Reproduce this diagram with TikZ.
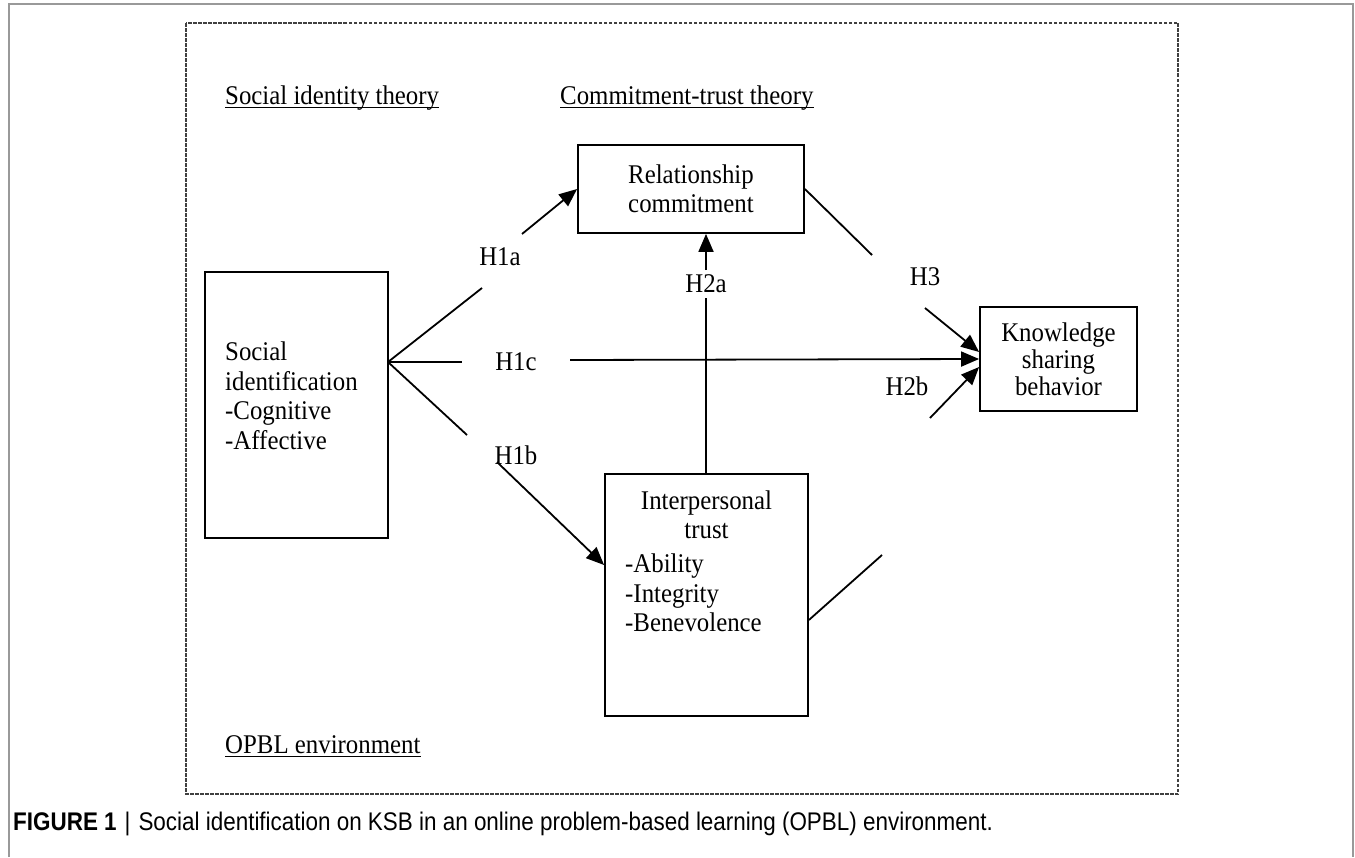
\documentclass[tikz,border=0pt]{standalone}
\usepackage{fontspec}
\setmainfont{Liberation Serif}[FakeStretch=0.92]
\newfontfamily\capfont{Liberation Sans}[FakeStretch=0.88]
\usetikzlibrary{arrows.meta}

\tikzset{
  box/.style={draw, line width=1.8pt, inner sep=0pt},
  hyp/.style={inner sep=1pt},
  heading/.style={inner sep=0pt, anchor=base west},
  link/.style={line width=1.8pt},
  arrowlink/.style={line width=1.8pt, -{Triangle[length=18pt,width=15pt]}},
}

\begin{document}
\begin{tikzpicture}[x=1pt,y=-1pt]
                \useasboundingbox (0,0) rectangle (1355,857);

                % Page frame, open at the bottom
                \draw [line width=1.5pt, black!40] (9,857) -- (9,4) -- (1353,4) -- (1353,857);%

                % Dashed environment frame
                \draw [line width=1.2pt, black!75, dash pattern=on 3.5pt off 1.5pt] (186,23) rectangle (1178,794);%

                {\fontsize{27}{29.5}\selectfont

                % Marking theory headings
                \node [heading] (sit) at (225,104) {Social identity theory};%
                \draw [line width=1pt] ([yshift=-3pt]sit.base west) -- ([yshift=-3pt]sit.base east);%
                \node [heading] (ctt) at (560,104) {Commitment-trust theory};%
                \draw [line width=1pt] ([yshift=-3pt]ctt.base west) -- ([yshift=-3pt]ctt.base east);%
                \node [heading] (env) at (225,753) {OPBL environment};%
                \draw [line width=1pt] ([yshift=-3pt]env.base west) -- ([yshift=-3pt]env.base east);%

                % Drawing box SI
                \node [box, minimum width=183pt, minimum height=266pt] (si) at (296.5,405) {};%
                \node [anchor=west, align=left, inner sep=0pt] (sitext) at (225,396) {Social\\identification\\-Cognitive\\-Affective};%

                % Drawing box RC
                \node [box, minimum width=226pt, minimum height=88pt, align=center] (rc) at (691,189) {Relationship\\commitment};%

                % Drawing box IT
                \node [box, minimum width=203pt, minimum height=242pt] (it) at (706.5,595) {};%
                \node [align=center, inner sep=0pt] (ittop) at (706.5,515) {Interpersonal\\trust};%
                \node [anchor=west, align=left, inner sep=0pt] (itlist) at (625,593) {-Ability\\-Integrity\\-Benevolence};%

                % Drawing box KSB
                \node [box, minimum width=157pt, minimum height=104pt, align=center, font=\fontsize{27}{27}\selectfont] (ksb) at (1058.5,359) {Knowledge\\sharing\\behavior};%

                % Marking hypotheses
                \node [hyp] (h1a) at (500,257) {H1a};%
                \node [hyp] (h1c) at (516,362) {H1c};%
                \node [hyp] (h1b) at (516,455) {H1b};%
                \node [hyp] (h2a) at (706,284) {H2a};%
                \node [hyp] (h3) at (925,277) {H3};%
                \node [hyp] (h2b) at (907,386) {H2b};%

                % Free ends of the split segments
                \coordinate (apex) at (388,362);%
                \coordinate (h1a-in) at (482,288);%
                \coordinate (h1a-out) at (522,234);%
                \coordinate (h1c-in) at (462,362);%
                \coordinate (h1c-out) at (570,360);%
                \coordinate (h1b-in) at (467,435);%
                \coordinate (h1b-out) at (497,462);%
                \coordinate (h2a-in) at (706,298);%
                \coordinate (h2a-out) at (706,270);%
                \coordinate (h3-in) at (872,255);%
                \coordinate (h3-out) at (925,308);%
                \coordinate (h2b-in) at (882,555);%
                \coordinate (h2b-out) at (930,418);%

                % Drawing segment SI RC
                \draw [link] (apex) -- (h1a-in);%
                \draw [arrowlink] (h1a-out) -- (rc.west);%

                % Drawing segment SI KSB
                \draw [link] (apex) -- (h1c-in);%
                \draw [arrowlink] (h1c-out) -- (ksb.west);%

                % Drawing segment SI IT
                \draw [link] (apex) -- (h1b-in);%
                \draw [arrowlink] (h1b-out) -- ([yshift=30pt]it.west);%

                % Drawing segment IT RC
                \draw [link] (it.north -| h2a-in) -- (h2a-in);%
                \draw [arrowlink] (h2a-out) -- (h2a-out |- rc.south);%

                % Drawing segment RC KSB
                \draw [link] (rc.east) -- (h3-in);%
                \draw [arrowlink] (h3-out) -- ([yshift=7pt]ksb.west);%

                % Drawing segment IT KSB
                \draw [link] ([yshift=-25pt]it.east) -- (h2b-in);%
                \draw [arrowlink] (h2b-out) -- ([yshift=-8pt]ksb.west);%
                }

                % Marking caption
                \node [anchor=base west, inner sep=0pt] (cap) at (13,830) {\capfont\fontsize{25.5}{28}\selectfont\textbf{FIGURE 1}\hspace{8pt}|\hspace{8pt}Social identification on KSB in an online problem-based learning (OPBL) environment.};%
\end{tikzpicture}
\end{document}
